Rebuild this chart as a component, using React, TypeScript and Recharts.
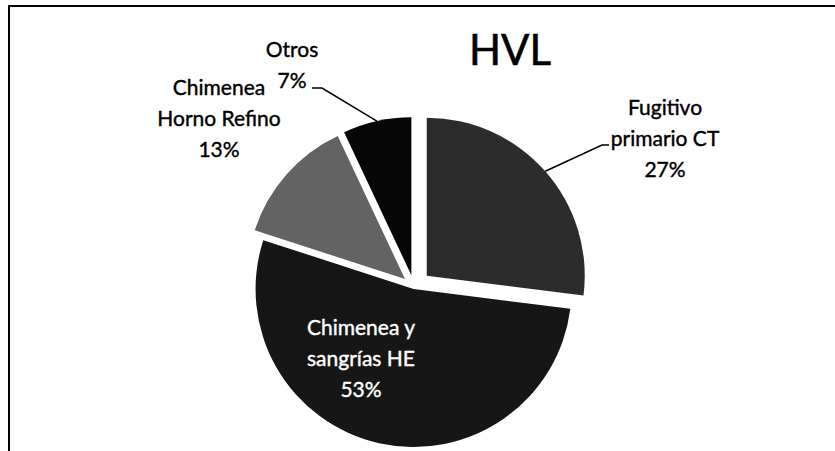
import React from "react";
import { PieChart, Pie, Cell } from "recharts";

// slice order: clockwise from 12 o'clock
const SLICE_NAMES = ["Fugitivo primario CT", "Chimenea y sangrías HE", "Chimenea Horno Refino", "Otros"];
const SLICE_SHARES = [27, 53, 13, 7];
const LABEL_TEXT = [
  ["Fugitivo", "primario CT"],
  ["Chimenea y", "sangrías HE"],
  ["Chimenea", "Horno Refino"],
  ["Otros"],
];

const FILLS = ["#2c2c2c", "#161616", "#636363", "#060606"];
const EXPLODE = [17, 2, 12, 12];

// label placement relative to the pie centre (first baseline), plus leader line
const LABEL_LAYOUT = [
  { dx: 251, dy: -172, fill: "#000", leader: [[188, -142], [195, -142]] },
  { dx: -53, dy: 48, fill: "#fff", leader: null },
  { dx: -195, dy: -192, fill: "#000", leader: null },
  { dx: -122, dy: -230, fill: "#000", leader: [[-92, -199], [-102, -199]] },
];

const FONT = "Lato, 'Open Sans', sans-serif";
const LINE_H = 31;
const RADIAN = Math.PI / 180;

const data = SLICE_NAMES.map((name, i) => ({ name, value: SLICE_SHARES[i] }));
const total = SLICE_SHARES.reduce((a, b) => a + b, 0);

// explode offset of each slice along its mid angle (clockwise from top)
const offsets = (() => {
  let acc = 0;
  return SLICE_SHARES.map((v, i) => {
    const mid = ((acc + v / 2) / total) * 360;
    acc += v;
    return { x: Math.sin(mid * RADIAN) * EXPLODE[i], y: -Math.cos(mid * RADIAN) * EXPLODE[i] };
  });
})();

function renderLabel(props: any) {
  const { cx, cy, midAngle, outerRadius, index, value } = props;
  const lay = LABEL_LAYOUT[index];
  const lines = [...LABEL_TEXT[index], `${value}%`];
  const off = offsets[index];
  let path = null;
  if (lay.leader) {
    const sx = cx + off.x + outerRadius * Math.cos(-midAngle * RADIAN);
    const sy = cy + off.y + outerRadius * Math.sin(-midAngle * RADIAN);
    const pts = [[sx, sy], ...lay.leader.map(([x, y]) => [cx + x, cy + y])];
    path = (
      <polyline
        points={pts.map((p) => p.join(",")).join(" ")}
        fill="none"
        stroke="#000"
        strokeWidth={1.6}
      />
    );
  }
  return (
    <g key={`lbl-${index}`}>
      {path}
      <text
        x={cx + lay.dx}
        y={cy + lay.dy}
        textAnchor="middle"
        fill={lay.fill}
        stroke={lay.fill}
        strokeWidth={0.4}
        style={{ fontFamily: FONT, fontSize: 21 }}
      >
        {lines.map((t, i) => (
          <tspan key={i} x={cx + lay.dx} dy={i === 0 ? 0 : LINE_H}>
            {t}
          </tspan>
        ))}
      </text>
    </g>
  );
}

export default function App() {
  return (
    <div style={{ position: "absolute", left: 0, top: 0, width: 835, height: 451, background: "#fff", overflow: "hidden" }}>
      <div
        style={{
          position: "absolute",
          left: 8,
          top: 5,
          width: 830,
          height: 450,
          borderTop: "2px solid #000",
          borderLeft: "2px solid #000",
        }}
      />
      <div
        style={{
          position: "absolute",
          left: 410,
          top: 24,
          width: 200,
          textAlign: "center",
          fontFamily: FONT,
          fontSize: 42,
          lineHeight: "50px",
          color: "#000",
          WebkitTextStroke: "0.6px #000",
        }}
      >
        HVL
      </div>
      <div style={{ position: "absolute", left: 0, top: 0 }}>
        <PieChart width={835} height={451} margin={{ top: 0, right: 0, bottom: 0, left: 0 }}>
          <Pie
            data={data}
            dataKey="value"
            nameKey="name"
            cx={414}
            cy={287}
            outerRadius={158}
            startAngle={90}
            endAngle={-270}
            stroke="none"
            label={renderLabel}
            labelLine={false}
            isAnimationActive={false}
          >
            {data.map((d, i) => (
              <Cell key={d.name} fill={FILLS[i]} transform={`translate(${offsets[i].x},${offsets[i].y})`} />
            ))}
          </Pie>
        </PieChart>
      </div>
    </div>
  );
}
